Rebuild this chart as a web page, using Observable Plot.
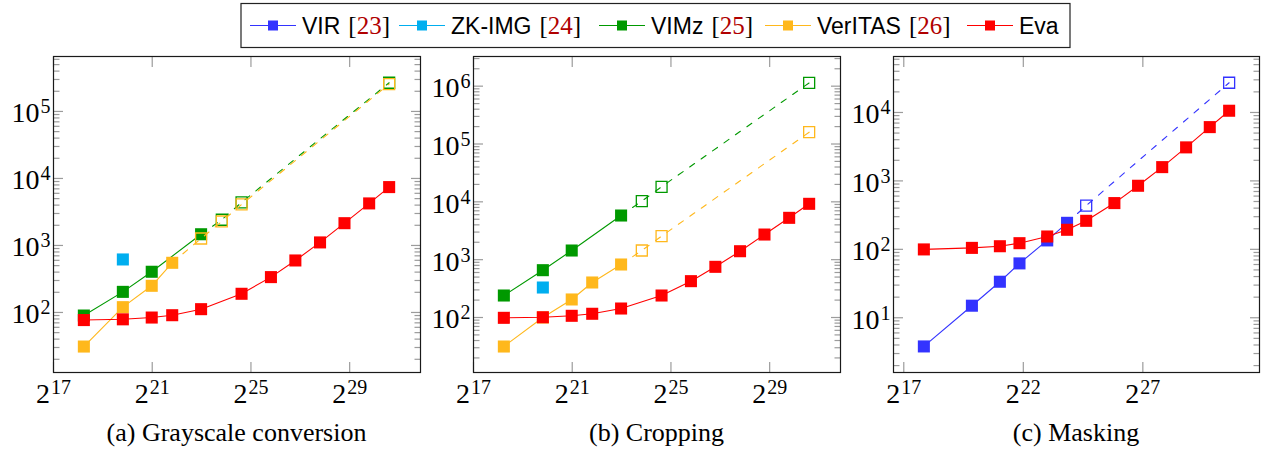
<!DOCTYPE html>
<html>
<head>
<meta charset="utf-8">
<script src="https://cdn.jsdelivr.net/npm/d3@7"></script>
<script src="https://cdn.jsdelivr.net/npm/@observablehq/plot@0.6"></script>
<style>
  html, body { margin: 0; padding: 0; background: #fff; }
  #root { position: relative; width: 1262px; height: 450px; overflow: hidden; background: #fff; }
  .panel { position: absolute; top: 50px; }
  #overlay { position: absolute; left: 0; top: 0; }
</style>
</head>
<body>
<div id="root"></div>
<script>
// ---------------- Data ----------------
const seriesNames = ["VIR", "ZK-IMG", "VIMz", "VerITAS", "Eva"];
const seriesCites = ["23", "24", "25", "26", null];

// (a) Grayscale conversion — image size as log2(pixels)
const grayLog2Px    = [18.23, 19.81, 20.98, 21.81, 22.98, 23.82, 24.62, 25.81, 26.80, 27.80, 28.79, 29.79, 30.60];
const grayEva       = [77, 79, 84, 91, 112, null, 190, 337, 597, 1110, 2150, 4240, 7430];
const grayVIMz      = [90, 203, 405, null, 1470, null, null, null, null, null, null, null, null];
const grayVIMzEst   = [null, null, null, null, null, 2420, 4390, null, null, null, null, null, 268000];
const grayVerITAS   = [31, 120, 250, 551, null, null, null, null, null, null, null, null, null];
const grayVerITASEst= [null, null, null, null, 1270, 2280, 4090, null, null, null, null, null, 256000];
const grayZKIMG     = [null, 618, null, null, null, null, null, null, null, null, null, null, null];

// (b) Cropping
const cropLog2Px    = [18.23, 19.81, 20.98, 21.81, 22.98, 23.82, 24.62, 25.81, 26.80, 27.80, 28.79, 29.79, 30.60];
const cropEva       = [98.7, 101, 107, 116, 143, null, 240, 425, 752, 1400, 2720, 5290, 9240];
const cropVIMz      = [240, 658, 1440, null, 5800, null, null, null, null, null, null, null, null];
const cropVIMzEst   = [null, null, null, null, null, 10300, 18200, null, null, null, null, null, 1140000];
const cropVerITAS   = [31.5, 100, 205, 403, 825, null, null, null, null, null, null, null, null];
const cropVerITASEst= [null, null, null, null, null, 1440, 2550, null, null, null, null, null, 160000];
const cropZKIMG     = [null, 330, null, null, null, null, null, null, null, null, null, null, null];

// (c) Masking
const maskLog2Px    = [17.84, 19.85, 21.02, 21.84, 23.00, 23.83, 24.63, 25.81, 26.80, 27.81, 28.81, 29.80, 30.61];
const maskEva       = [99.7, 105, 111, 123, 154, 193, 261, 474, 849, 1590, 3090, 6110, 10600];
const maskVIR       = [3.81, 15.0, 33.6, 62.3, 135, 244, null, null, null, null, null, null, null];
const maskVIREst    = [null, null, null, null, null, null, 434, null, null, null, null, null, 27200];

// tick labels (exponents)
const grayXTickExp = [17, 21, 25, 29];
const cropXTickExp = [17, 21, 25, 29];
const maskXTickExp = [17, 22, 27];
const grayYTickExp = [2, 3, 4, 5];
const cropYTickExp = [2, 3, 4, 5, 6];
const maskYTickExp = [1, 2, 3, 4];

const captions = ["(a) Grayscale conversion", "(b) Cropping", "(c) Masking"];

// ---------------- Styles ----------------
const colors = { "VIR": "#3333ff", "ZK-IMG": "#00aeef", "VIMz": "#009900", "VerITAS": "#ffb81c", "Eva": "#ff0000" };
const SERIF = "'Liberation Serif', 'Times New Roman', serif";
const SANS = "'Liberation Sans', Arial, sans-serif";

function pts(sizes, vals) {
  const out = [];
  vals.forEach((v, i) => { if (v != null) out.push({ x: 2 ** sizes[i], y: v }); });
  return out;
}

function makePanel(cfg) {
  const { sizes, series, xDomainExp, yDomainExp, xTickExp, yTickExp, width, marginRight } = cfg;
  const yDomain = yDomainExp.map(e => 10 ** e);
  const xDomain = xDomainExp.map(e => 2 ** e);
  const xTicks = xTickExp.map(e => 2 ** e);
  const yTicks = yTickExp.map(e => 10 ** e);
  const minor = [];
  for (let p = Math.floor(yDomainExp[0]); p <= Math.ceil(yDomainExp[1]); p++)
    for (let k = 2; k <= 9; k++) {
      const v = k * 10 ** p;
      if (v >= yDomain[0] && v <= yDomain[1]) minor.push(v);
    }
  const tickGrey = "#9c9c9c";
  const marks = [];
  for (const a of ["left", "right"]) {
    marks.push(Plot.axisY({ anchor: a, ticks: minor, tickSize: -6.5, stroke: tickGrey, strokeWidth: 1.2, fill: "none", label: null }));
    marks.push(Plot.axisY({ anchor: a, ticks: yTicks, tickSize: -10, stroke: tickGrey, strokeWidth: 1.2, fill: "none", label: null }));
  }
  for (const a of ["top", "bottom"]) {
    marks.push(Plot.axisX({ anchor: a, ticks: xTicks, tickSize: -10, stroke: tickGrey, strokeWidth: 1.2, fill: "none", label: null }));
  }
  marks.push(Plot.axisY({ anchor: "left", ticks: yTicks, tickSize: 0, tickPadding: 3, dy: 2, fontSize: 28, fill: "#000",
    tickFormat: d => "10^" + Math.round(Math.log10(d)), label: null }));
  marks.push(Plot.axisX({ anchor: "bottom", ticks: xTicks, tickSize: 0, tickPadding: 11, fontSize: 28, fill: "#000",
    tickFormat: d => "2^" + Math.round(Math.log2(d)), label: null }));
  marks.push(Plot.frame({ stroke: "#1a1a1a", strokeWidth: 1.2 }));

  for (const s of series) {
    const c = colors[s.name];
    const meas = pts(sizes, s.meas);
    const est = s.est ? pts(sizes, s.est) : [];
    if (meas.length > 1) marks.push(Plot.line(meas, { x: "x", y: "y", stroke: c, strokeWidth: 1.1 }));
    if (est.length) {
      const dashed = [meas[meas.length - 1], ...est];
      marks.push(Plot.line(dashed, { x: "x", y: "y", stroke: c, strokeWidth: 1.1, strokeDasharray: "6,8" }));
    }
    marks.push(Plot.dot(meas, { x: "x", y: "y", symbol: "square", r: 6.8, fill: c, stroke: "none" }));
    if (est.length) marks.push(Plot.dot(est, { x: "x", y: "y", symbol: "square", r: 6.2, fill: "none", stroke: c, strokeWidth: 1.3 }));
  }

  const svg = Plot.plot({
    width, height: 360,
    marginLeft: 53, marginRight, marginTop: 6, marginBottom: 38,
    x: { type: "log", base: 2, domain: xDomain, label: null },
    y: { type: "log", domain: yDomain, label: null },
    style: { fontFamily: SERIF, background: "transparent", overflow: "visible" },
    marks
  });
  supify(svg);
  return svg;
}

function supify(svg) {
  const ns = "http://www.w3.org/2000/svg";
  svg.querySelectorAll("text").forEach(t => {
    const m = /^(\d+)\^(\d+)$/.exec(t.textContent.trim());
    if (!m) return;
    t.textContent = "";
    const b = document.createElementNS(ns, "tspan");
    b.textContent = m[1];
    const e = document.createElementNS(ns, "tspan");
    e.textContent = m[2];
    e.setAttribute("dy", "-9");
    e.setAttribute("dx", "1");
    e.setAttribute("font-size", "20");
    t.append(b, e);
  });
}

const root = document.getElementById("root");

const panels = [
  { left: 0, width: 421, marginRight: 1, sizes: grayLog2Px, xDomainExp: [17, 31.87], yDomainExp: [1.104, 5.82],
    xTickExp: grayXTickExp, yTickExp: grayYTickExp,
    series: [
      { name: "ZK-IMG", meas: grayZKIMG },
      { name: "VIMz", meas: grayVIMz, est: grayVIMzEst },
      { name: "VerITAS", meas: grayVerITAS, est: grayVerITASEst },
      { name: "Eva", meas: grayEva }
    ] },
  { left: 420, width: 421, marginRight: 1, sizes: cropLog2Px, xDomainExp: [17, 31.87], yDomainExp: [1.049, 6.513],
    xTickExp: cropXTickExp, yTickExp: cropYTickExp,
    series: [
      { name: "ZK-IMG", meas: cropZKIMG },
      { name: "VIMz", meas: cropVIMz, est: cropVIMzEst },
      { name: "VerITAS", meas: cropVerITAS, est: cropVerITASEst },
      { name: "Eva", meas: cropEva }
    ] },
  { left: 840, width: 422, marginRight: 3, sizes: maskLog2Px, xDomainExp: [16.57, 31.88], yDomainExp: [0.2, 4.818],
    xTickExp: maskXTickExp, yTickExp: maskYTickExp,
    series: [
      { name: "VIR", meas: maskVIR, est: maskVIREst },
      { name: "Eva", meas: maskEva }
    ] }
];

panels.forEach(p => {
  const svg = makePanel(p);
  const wrap = document.createElement("div");
  wrap.className = "panel";
  wrap.style.left = p.left + "px";
  wrap.appendChild(svg);
  root.appendChild(wrap);
});

// ---------------- Legend + captions overlay ----------------
const ns = "http://www.w3.org/2000/svg";
const ov = document.createElementNS(ns, "svg");
ov.setAttribute("id", "overlay");
ov.setAttribute("width", 1262);
ov.setAttribute("height", 450);
root.appendChild(ov);
function el(tag, attrs, parent) {
  const e = document.createElementNS(ns, tag);
  for (const k in attrs) e.setAttribute(k, attrs[k]);
  (parent || ov).appendChild(e);
  return e;
}
el("rect", { x: 241, y: 3.5, width: 829, height: 44, fill: "#fff", stroke: "#222", "stroke-width": 1.2 });
const entryLeft = [250, 399, 599, 765, 967];
const legendY = 25.5;
seriesNames.forEach((name, i) => {
  const x0 = entryLeft[i], c = colors[name];
  el("line", { x1: x0, x2: x0 + 46, y1: legendY, y2: legendY, stroke: c, "stroke-width": 1.1 });
  el("rect", { x: x0 + 23 - 5, y: legendY - 5, width: 10, height: 10, fill: c });
  const t = el("text", { x: x0 + 52, y: legendY + 8, "font-family": SANS, "font-size": 23, fill: "#000" });
  const n = el("tspan", {}, t); n.textContent = name;
  if (seriesCites[i]) {
    const b1 = el("tspan", { dx: 8, "font-family": SERIF, "font-size": 25 }, t); b1.textContent = "[";
    const num = el("tspan", { "font-family": SERIF, "font-size": 25, fill: "#b00000" }, t); num.textContent = seriesCites[i];
    const b2 = el("tspan", { "font-family": SERIF, "font-size": 25 }, t); b2.textContent = "]";
  }
});
const capCenters = [236.5, 656.5, 1076];
captions.forEach((c, i) => {
  const t = el("text", { x: capCenters[i], y: 441, "text-anchor": "middle", "font-family": SERIF, "font-size": 26, fill: "#000" });
  t.textContent = c;
});
</script>
</body>
</html>
